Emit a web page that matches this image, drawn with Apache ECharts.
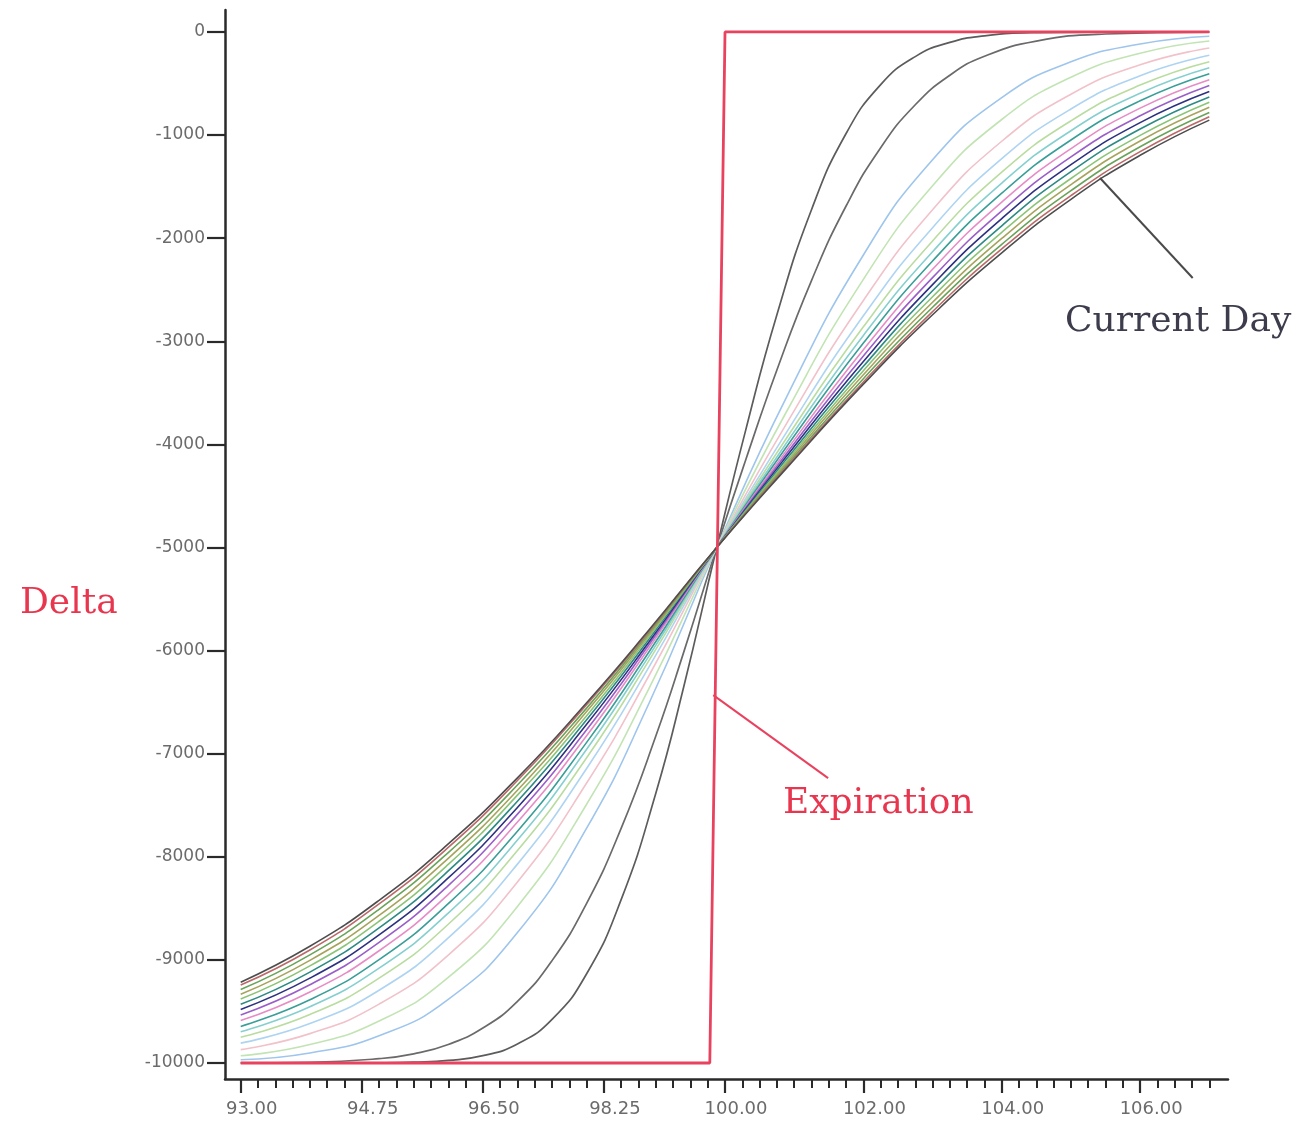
<!DOCTYPE html>
<html><head><meta charset="utf-8">
<script src="https://cdn.jsdelivr.net/npm/echarts@6/dist/echarts.min.js"></script>
<style>html,body{margin:0;padding:0;background:#fff}#c{width:1294px;height:1122px}</style>
</head><body><div id="c"></div>
<script>
// ---- tick labels ----
const xTickLabels = [93, 94.75, 96.5, 98.25, 100, 102, 104, 106];
const yTickLabels = [0, -1000, -2000, -3000, -4000, -5000, -6000, -7000, -8000, -9000, -10000];

// ---- expiration (step) ----
const expX = [93, 99.78, 100.0, 107];
const expY = [-10000, -10000, 0, 0];

// ---- two sharp gray curves (nearest dates) ----
const grayX = [93, 94, 95, 95.5, 96, 96.5, 97, 97.5, 98, 98.5, 99, 99.4, 99.88, 100.3, 100.75, 101.25, 101.75, 102.25, 102.75, 103.25, 103.75, 104.5, 105.5, 107];
const gray1 = [-10000, -10000, -9998, -9992, -9975, -9929, -9815, -9577, -9134, -8413, -7383, -6360, -5000, -3859, -2743, -1724, -985, -511, -239, -101, -38, -7, -1, 0];
const gray2 = [-9999, -9993, -9958, -9911, -9820, -9661, -9402, -9007, -8451, -7722, -6829, -6022, -5000, -4149, -3278, -2411, -1688, -1122, -706, -420, -236, -89, -20, -1];

// ---- bundle of colored curves ----
const bundleX = [93, 94, 95, 96, 97, 98, 98.9, 99.88, 100.9, 102, 103, 104, 105, 106, 107];
const b01 = [-9968, -9902, -9736, -9382, -8735, -7722, -6513, -5000, -3527, -2163, -1239, -636, -290, -117, -42];
const b02 = [-9930, -9821, -9593, -9170, -8481, -7490, -6368, -5000, -3669, -2399, -1492, -849, -439, -207, -88];
const b03 = [-9870, -9715, -9429, -8953, -8244, -7284, -6244, -5000, -3786, -2604, -1724, -1060, -604, -318, -155];
const b04 = [-9807, -9617, -9294, -8787, -8071, -7143, -6160, -5000, -3871, -2753, -1898, -1229, -747, -424, -225];
const b05 = [-9750, -9530, -9177, -8654, -7939, -7039, -6098, -5000, -3928, -2860, -2027, -1359, -862, -515, -288];
const b06 = [-9696, -9454, -9080, -8546, -7837, -6957, -6053, -5000, -3974, -2943, -2131, -1466, -958, -594, -347];
const b07 = [-9645, -9386, -8998, -8454, -7752, -6890, -6014, -5000, -4013, -3017, -2221, -1564, -1048, -668, -405];
const b08 = [-9588, -9311, -8911, -8364, -7663, -6826, -5975, -5000, -4048, -3082, -2302, -1650, -1132, -739, -463];
const b09 = [-9534, -9241, -8830, -8279, -7586, -6768, -5944, -5000, -4079, -3142, -2383, -1735, -1212, -813, -520];
const b10 = [-9480, -9177, -8757, -8205, -7521, -6715, -5917, -5000, -4106, -3196, -2451, -1810, -1287, -879, -578];
const b11 = [-9431, -9118, -8690, -8137, -7461, -6671, -5890, -5000, -4133, -3243, -2510, -1880, -1355, -941, -630];
const b12 = [-9380, -9058, -8625, -8074, -7402, -6631, -5867, -5000, -4156, -3285, -2568, -1943, -1421, -1003, -681];
const b13 = [-9334, -9004, -8568, -8015, -7355, -6591, -5847, -5000, -4176, -3325, -2622, -2003, -1481, -1058, -731];
const b14 = [-9288, -8951, -8509, -7959, -7304, -6558, -5828, -5000, -4195, -3363, -2670, -2060, -1539, -1114, -782];
const b15 = [-9244, -8904, -8457, -7909, -7260, -6524, -5812, -5000, -4211, -3395, -2712, -2104, -1587, -1161, -822];
const b16 = [-9216, -8868, -8422, -7875, -7234, -6506, -5801, -5000, -4223, -3416, -2743, -2143, -1623, -1196, -855];

const bundle = [b01,b02,b03,b04,b05,b06,b07,b08,b09,b10,b11,b12,b13,b14,b15,b16];
const bundleColors = ['#9ec5ec','#c2e4b4','#f1c2ca','#aed4f2','#b9dca0','#86cfcf','#3a9e98','#e68cc6',
  '#9b5ec9','#2d3180','#2d8a84','#8cc477','#a8a35c','#6aa35a','#bb6a6a','#4e4e4e'];

const zip = (xs, ys) => xs.map((x, i) => [x, ys[i]]);

const minorTicks = [];
for (let i = 0; i <= 56; i++) minorTicks.push(93 + i * 0.25);

const axisColor = '#2a2a2a';
const series = [];
series.push({ type:'line', data: zip(grayX, gray1), smooth:0.5, showSymbol:false, lineStyle:{color:'#5c5c5c', width:1.7} });
series.push({ type:'line', data: zip(grayX, gray2), smooth:0.5, showSymbol:false, lineStyle:{color:'#6a6a6a', width:1.7} });
bundle.forEach((arr, i) => {
  const s = { type:'line', data: zip(bundleX, arr), smooth:0.5, showSymbol:false,
    lineStyle:{color: bundleColors[i], width:1.6} };
  if (i === bundle.length - 1) {
    s.markLine = { silent:true, symbol:['none','none'], label:{show:false},
      lineStyle:{color:'#4a4a4a', width:2, type:'solid'},
      data:[[{coord:[105.42,-1416]},{coord:[106.76,-2386]}]] };
  }
  series.push(s);
});
series.push({ type:'line', data: zip(expX, expY), showSymbol:false, lineStyle:{color:'#e8425e', width:2.8},
  markLine: { silent:true, symbol:['none','none'], label:{show:false},
    lineStyle:{color:'#e8425e', width:2, type:'solid'},
    data:[[{coord:[99.83,-6432]},{coord:[101.49,-7237]}]] } });

const chart = echarts.init(document.getElementById('c'), null, {renderer:'canvas'});
chart.setOption({
  animation:false,
  backgroundColor:'#ffffff',
  grid:{left:225, right:66, top:10, bottom:43, containLabel:false},
  xAxis:[
    { type:'value', min:92.773, max:107.27, position:'bottom',
      axisLine:{show:true, onZero:false, lineStyle:{color:axisColor, width:2.5}},
      axisTick:{show:true, customValues:xTickLabels, length:14, lineStyle:{color:axisColor, width:2.2}},
      axisLabel:{show:true, customValues:xTickLabels, formatter:v => v.toFixed(2), margin:21,
        padding:[0,0,0,22], color:'#6b6b6b', fontSize:18, fontFamily:'DejaVu Sans'},
      splitLine:{show:false} },
    { type:'value', min:92.773, max:107.27, position:'bottom',
      axisLine:{show:false, onZero:false},
      axisTick:{show:true, customValues:minorTicks, length:9, lineStyle:{color:axisColor, width:2}},
      axisLabel:{show:false}, splitLine:{show:false} }
  ],
  yAxis:{ type:'value', min:-10155, max:213,
    axisLine:{show:true, onZero:false, lineStyle:{color:axisColor, width:2.5}},
    axisTick:{show:true, customValues:yTickLabels, length:18, lineStyle:{color:axisColor, width:2.2}},
    axisLabel:{show:true, customValues:yTickLabels, formatter:v => String(v), margin:20,
      color:'#6b6b6b', fontSize:17, fontFamily:'DejaVu Sans'},
    splitLine:{show:false} },
  graphic:[
    { type:'text', x:20, y:604, style:{text:'Delta', fill:'#e8364f', fontSize:36, fontFamily:'DejaVu Serif', verticalAlign:'middle'} },
    { type:'text', x:783, y:804, style:{text:'Expiration', fill:'#e8364f', fontSize:36, fontFamily:'DejaVu Serif', verticalAlign:'middle'} },
    { type:'text', x:1065, y:322, style:{text:'Current Day', fill:'#3c3c4c', fontSize:36, fontFamily:'DejaVu Serif', verticalAlign:'middle'} }
  ],
  series: series
});
</script>
</body></html>
